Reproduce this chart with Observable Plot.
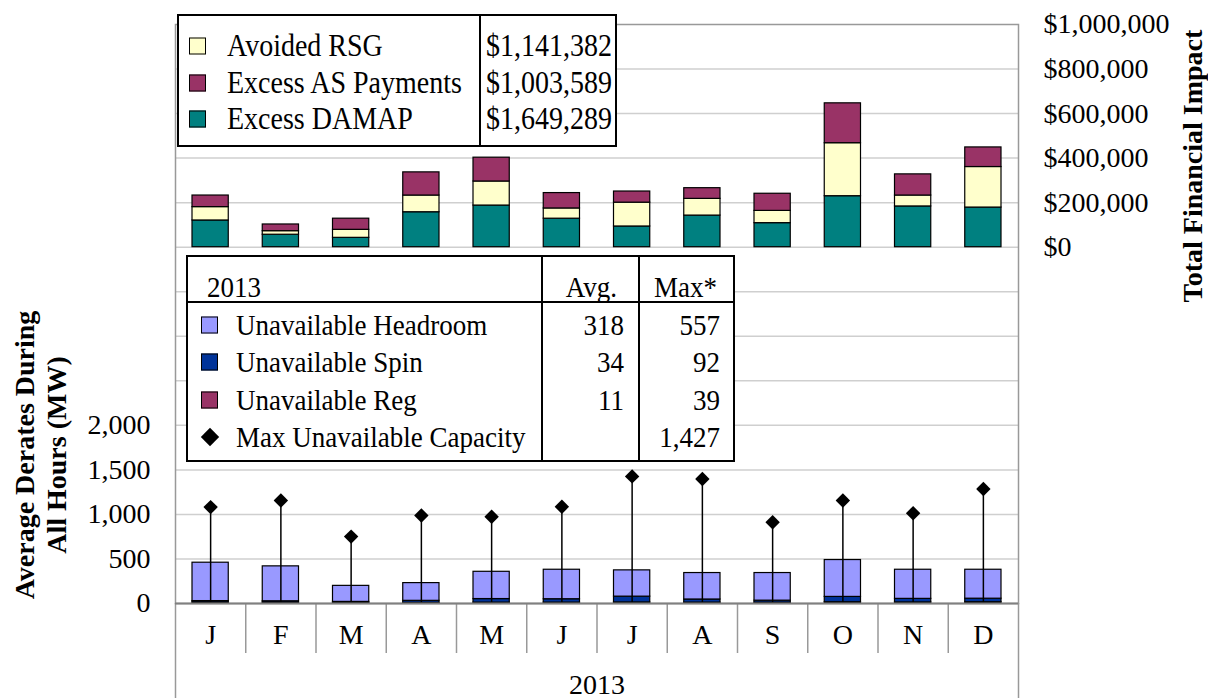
<!DOCTYPE html>
<html>
<head>
<meta charset="utf-8">
<script src="https://cdn.jsdelivr.net/npm/d3@7"></script>
<script src="https://cdn.jsdelivr.net/npm/@observablehq/plot@0.6"></script>
<style>
  body { margin: 0; background: #fff; }
  #wrap { position: relative; width: 1208px; height: 698px; overflow: hidden;
          font-family: "Liberation Serif", "Times New Roman", serif; color: #000; }
  #wrap svg { position: absolute; left: 0; top: 0; }
  .ytitle { position: absolute; font-weight: bold; font-size: 28px; white-space: nowrap;
            line-height: 32px; text-align: center; transform: translate(-50%, -50%) rotate(-90deg); }
  .legend { position: absolute; box-sizing: border-box; border: 2px solid #000; background: #fff; }
  .legend .row { position: absolute; left: 0; right: 0; height: 0; }
  .legend .row > span { position: absolute; top: 0; transform: translateY(-50%) scaleY(1.12); line-height: 1; white-space: nowrap; }
  .legend .row > span.sw { transform: translateY(-50%); }
  .legend .sw { width: 15px; height: 15px; border: 1px solid #000; box-sizing: content-box; }
  .legend .row > span.dia { width: 13px; height: 13px; background: #000; transform: translate(-50%, -50%) rotate(45deg); }
  .legend .vsep { position: absolute; top: 0; bottom: 0; width: 2px; background: #000; }
  .legend .hsep { position: absolute; left: 0; right: 0; height: 2px; background: #000; }
</style>
</head>
<body>
<div id="wrap"></div>
<script>
// ---- Categories ----
const months = ["Jan", "Feb", "Mar", "Apr", "May", "Jun", "Jul", "Aug", "Sep", "Oct", "Nov", "Dec"];
const monthLetters = ["J", "F", "M", "A", "M", "J", "J", "A", "S", "O", "N", "D"];
const yearLabel = "2013";

// ---- Total financial impact ($) ----
const excessDAMAP      = [120000, 56000, 42000, 157000, 187000, 128000, 93000, 142000, 108000, 229000, 183000, 178000];
const avoidedRSG       = [60000, 16000, 36000, 75000, 108000, 46000, 107000, 75000, 55000, 238000, 49000, 182000];
const excessASPayments = [52000, 30000, 50000, 104000, 107000, 69000, 50000, 48000, 77000, 179000, 95000, 88000];

// ---- Average derates during all hours (MW) ----
const unavailableReg      = [12, 10, 6, 8, 10, 10, 12, 10, 10, 14, 12, 14];
const unavailableSpin     = [15, 15, 12, 22, 40, 38, 65, 35, 22, 60, 40, 40];
const unavailableHeadroom = [431, 392, 180, 199, 306, 331, 295, 297, 310, 414, 327, 325];
const maxUnavailableCap   = [1082, 1157, 751, 987, 973, 1086, 1427, 1398, 913, 1157, 1014, 1285];

// ---- Ticks ----
const leftTicks = [0, 500, 1000, 1500, 2000];
const rightTicks = [0, 200000, 400000, 600000, 800000, 1000000];
const rightTickLabels = ["$0", "$200,000", "$400,000", "$600,000", "$800,000", "$1,000,000"];
const gridTicks = [500, 1000, 1500, 2000, 2500, 3000, 3500, 4000, 4500, 5000, 5500, 6000];

// ---- Legend tables ----
const finLegendNames  = ["Avoided RSG", "Excess AS Payments", "Excess DAMAP"];
const finLegendTotals = ["$1,141,382", "$1,003,589", "$1,649,289"];
const derateHeader    = ["2013", "Avg.", "Max*"];
const derateNames     = ["Unavailable Headroom", "Unavailable Spin", "Unavailable Reg", "Max Unavailable Capacity"];
const derateAvg       = ["318", "34", "11", ""];
const derateMax       = ["557", "92", "39", "1,427"];

// ---- Colours ----
const colors = {
  "Excess DAMAP": "#008080",
  "Avoided RSG": "#FFFFCC",
  "Excess AS Payments": "#993366",
  "Unavailable Headroom": "#9999FF",
  "Unavailable Spin": "#003399",
  "Unavailable Reg": "#993366"
};

// Secondary ($) axis shares the MW scale: $0 sits at 4,000 MW, $400 per MW.
const toMW = dollars => 4000 + dollars / 400;
const rightLabelOf = new Map(rightTicks.map((v, i) => [toMW(v), rightTickLabels[i]]));

// Build stacked tables
const finSeries = [
  {name: "Excess DAMAP", values: excessDAMAP},
  {name: "Avoided RSG", values: avoidedRSG},
  {name: "Excess AS Payments", values: excessASPayments}
];
const derSeries = [
  {name: "Unavailable Reg", values: unavailableReg},
  {name: "Unavailable Spin", values: unavailableSpin},
  {name: "Unavailable Headroom", values: unavailableHeadroom}
];
const finRows = [], derRows = [];
months.forEach((m, i) => {
  let acc = 0;
  finSeries.forEach(s => {
    const v = s.values[i];
    finRows.push({month: m, x1: i, x2: i + 1, y1: toMW(acc), y2: toMW(acc + v), fill: colors[s.name]});
    acc += v;
  });
  let acc2 = 0;
  derSeries.forEach(s => {
    const v = s.values[i];
    derRows.push({month: m, x1: i, x2: i + 1, y1: acc2, y2: acc2 + v, fill: colors[s.name]});
    acc2 += v;
  });
});
const maxRows = maxUnavailableCap.map((v, i) => ({month: months[i], x: i + 0.5, v}));

const chart = Plot.plot({
  width: 1208,
  height: 698,
  marginLeft: 175,
  marginRight: 190,
  marginTop: 24,
  marginBottom: 95,
  style: {fontFamily: "'Liberation Serif', 'Times New Roman', serif", fontSize: "28px", color: "#000", background: "transparent"},
  x: {type: "linear", domain: [0, months.length], axis: null},
  y: {domain: [0, 6500], axis: null},
  color: {type: "identity"},
  marks: [
    Plot.gridY(gridTicks, {stroke: "#cfcfcf", strokeOpacity: 1, strokeWidth: 1.5}),
    Plot.frame({stroke: "#999", strokeWidth: 1.5}),
    // category box below the plot: outer sides and month separators
    Plot.axisX([0, months.length], {tickSize: 95, tickFormat: () => "", stroke: "#999", strokeWidth: 1.5, label: null}),
    Plot.axisX(d3.range(1, months.length), {tickSize: 50, tickFormat: () => "", stroke: "#999", strokeWidth: 1.5, label: null}),
    Plot.axisY(leftTicks, {anchor: "left", tickSize: 0, tickPadding: 25, tickFormat: d3.format(","), label: null}),
    Plot.axisY(rightTicks.map(toMW), {anchor: "right", tickSize: 0, tickPadding: 25, tickFormat: d => rightLabelOf.get(d), label: null}),
    Plot.rect(finRows, {x1: "x1", x2: "x2", y1: "y1", y2: "y2", fill: "fill", stroke: "#000", strokeWidth: 1.2, insetLeft: 17, insetRight: 17}),
    Plot.rect(derRows, {x1: "x1", x2: "x2", y1: "y1", y2: "y2", fill: "fill", stroke: "#000", strokeWidth: 1.2, insetLeft: 17, insetRight: 17}),
    Plot.ruleX(maxRows, {x: "x", y1: 0, y2: "v", stroke: "#000", strokeWidth: 1.5}),
    Plot.dot(maxRows, {x: "x", y: "v", symbol: "diamond2", r: 6.5, fill: "#000", stroke: "none"}),
    Plot.ruleY([0], {stroke: "#808080", strokeWidth: 2}),
    Plot.text(months, {x: (d, i) => i + 0.5, text: (d, i) => monthLetters[i], frameAnchor: "bottom", dy: 40, fontSize: 28}),
    Plot.text([yearLabel], {frameAnchor: "bottom", dy: 90, fontSize: 28})
  ]
});

const wrap = d3.select("#wrap");
wrap.node().appendChild(chart);

// Axis titles
wrap.append("div").attr("class", "ytitle").style("left", "41px").style("top", "455px")
  .html("Average Derates During<br>All Hours (MW)");
wrap.append("div").attr("class", "ytitle").style("left", "1193px").style("top", "166px")
  .text("Total Financial Impact");

// Financial legend table
const lg1 = wrap.append("div").attr("class", "legend")
  .style("left", "177px").style("top", "14px").style("width", "440px").style("height", "133px")
  .style("font-size", "28px");
lg1.append("div").attr("class", "vsep").style("left", "300px");
finLegendNames.forEach((name, i) => {
  const row = lg1.append("div").attr("class", "row").style("top", (30 + i * 36.5) + "px");
  row.append("span").attr("class", "sw").style("left", "10px").style("background", colors[name]);
  row.append("span").style("left", "48px").text(name);
  row.append("span").style("right", "3px").text(finLegendTotals[i]);
});

// Derates legend table
const lg2 = wrap.append("div").attr("class", "legend")
  .style("left", "186px").style("top", "255px").style("width", "549px").style("height", "207px")
  .style("font-size", "27px");
lg2.append("div").attr("class", "vsep").style("left", "353px");
lg2.append("div").attr("class", "vsep").style("left", "450px");
lg2.append("div").attr("class", "hsep").style("top", "44px");
const head = lg2.append("div").attr("class", "row").style("top", "30px");
head.append("span").style("left", "19px").text(derateHeader[0]);
head.append("span").style("right", "116px").text(derateHeader[1]);
head.append("span").style("right", "16px").text(derateHeader[2]);
derateNames.forEach((name, i) => {
  const row = lg2.append("div").attr("class", "row").style("top", (68 + i * 37.3) + "px");
  if (colors[name]) {
    row.append("span").attr("class", "sw").style("left", "13px").style("background", colors[name]);
  } else {
    row.append("span").attr("class", "dia").style("left", "22px");
  }
  row.append("span").style("left", "48px").text(name);
  row.append("span").style("right", "109px").text(derateAvg[i]);
  row.append("span").style("right", "13px").text(derateMax[i]);
});
</script>
</body>
</html>
